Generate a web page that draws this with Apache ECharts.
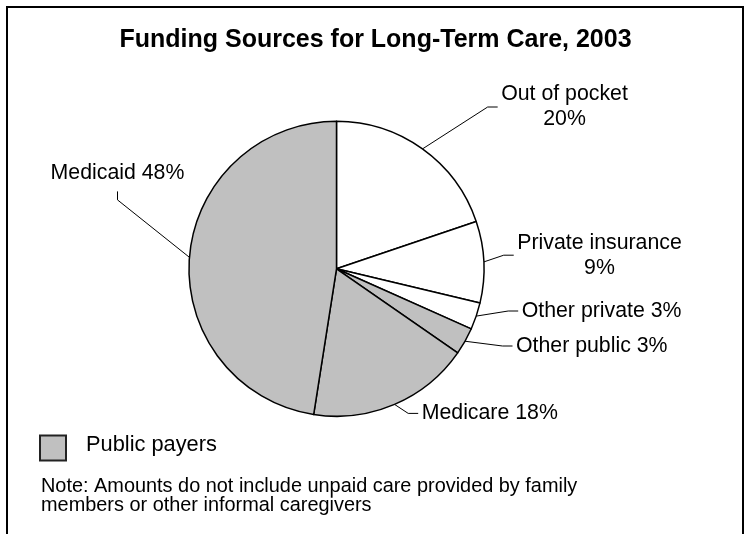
<!DOCTYPE html>
<html>
<head>
<meta charset="utf-8">
<title>Funding Sources for Long-Term Care, 2003</title>
<script src="https://cdn.jsdelivr.net/npm/echarts@6/dist/echarts.min.js"></script>
<style>
  html, body { margin: 0; padding: 0; background: #fff; }
  #chart { width: 751px; height: 534px; }
</style>
</head>
<body>
<div id="chart"></div>
<script>
// Funding shares (percent), clockwise from 12 o'clock
const categories = ['Out of pocket', 'Private insurance', 'Other private', 'Other public', 'Medicare', 'Medicaid'];
const shares = [20, 9, 3, 3, 18, 48];
const payerType = ['private', 'private', 'private', 'public', 'public', 'public'];
const legendLabels = ['Public payers'];
const titleText = 'Funding Sources for Long-Term Care, 2003';
const noteText = 'Note: Amounts do not include unpaid care provided by family\nmembers or other informal caregivers';

// Colours per payer type
const payerColors = { private: '#ffffff', public: '#c0c0c0' };

// Label placement (pixels): where each callout text sits and how its leader enters it
const labelSpots = [
  { x: 564.5, y: 107, align: 'center', enter: 'left', wrap: true },
  { x: 599.5, y: 255.2, align: 'center', enter: 'left', wrap: true },
  { x: 521.7, y: 311, align: 'left', enter: 'left', wrap: false },
  { x: 516, y: 346, align: 'left', enter: 'left', wrap: false },
  { x: 421.7, y: 413.4, align: 'left', enter: 'left', wrap: false },
  { x: 117.5, y: 173.4, align: 'center', enter: 'bottom', wrap: false }
];

const FONT = "'Liberation Sans', Arial, Helvetica, sans-serif";
const PIE_CENTER = [336.5, 268.8];
const PIE_RADIUS = 147.5;

const pieData = categories.map((name, i) => ({
  name: name,
  value: shares[i],
  itemStyle: { color: payerColors[payerType[i]] }
}));

const chart = echarts.init(document.getElementById('chart'), null, { renderer: 'canvas' });

chart.setOption({
  animation: false,
  backgroundColor: '#ffffff',
  title: {
    text: titleText,
    left: 'center',
    top: 23,
    padding: 5,
    textStyle: { fontFamily: FONT, fontSize: 25, fontWeight: 'bold', color: '#000', lineHeight: 25 }
  },
  graphic: [
    // outer frame
    {
      type: 'rect', silent: true,
      shape: { x: 7, y: 7, width: 736, height: 540 },
      style: { fill: 'none', stroke: '#000', lineWidth: 2 }
    },
    // legend key
    {
      type: 'rect', silent: true,
      shape: { x: 40, y: 435.5, width: 26, height: 25 },
      style: { fill: payerColors.public, stroke: '#222', lineWidth: 2 }
    },
    {
      type: 'text', silent: true, x: 86, y: 445,
      style: { text: legendLabels[0], fontFamily: FONT, fontSize: 21.8, fill: '#000', align: 'left', verticalAlign: 'middle' }
    },
    // footnote
    {
      type: 'text', silent: true, x: 41, y: 477,
      style: { text: noteText, fontFamily: FONT, fontSize: 19.9, lineHeight: 19, fill: '#000', align: 'left', verticalAlign: 'top' }
    }
  ],
  series: [{
    type: 'pie',
    center: PIE_CENTER,
    radius: PIE_RADIUS,
    startAngle: 90,
    clockwise: true,
    avoidLabelOverlap: false,
    silent: true,
    emphasis: { disabled: true },
    data: pieData,
    itemStyle: { borderColor: '#000', borderWidth: 1.5 },
    label: {
      show: true,
      position: 'outside',
      fontFamily: FONT,
      fontSize: 21.3,
      lineHeight: 25,
      color: '#000',
      formatter: function (p) {
        const sep = labelSpots[p.dataIndex].wrap ? '\n' : ' ';
        return p.name + sep + p.value + '%';
      }
    },
    labelLine: {
      show: true,
      length: 10,
      length2: 10,
      smooth: false,
      lineStyle: { color: '#000', width: 1 }
    },
    labelLayout: function (params) {
      const spot = labelSpots[params.dataIndex];
      const w = params.labelRect.width;
      const start = params.labelLinePoints[0];
      let pts;
      if (spot.enter === 'left') {
        const left = spot.align === 'center' ? spot.x - w / 2 : spot.x;
        const end = [left - 3.5, spot.y];
        pts = [start, [end[0] - 10, spot.y], end];
      } else {
        const bottom = spot.y + 18;
        pts = [start, [spot.x, bottom + 8.5], [spot.x, bottom]];
      }
      return {
        x: spot.x,
        y: spot.y,
        align: spot.align,
        verticalAlign: 'middle',
        labelLinePoints: pts
      };
    }
  }]
});
</script>
</body>
</html>
